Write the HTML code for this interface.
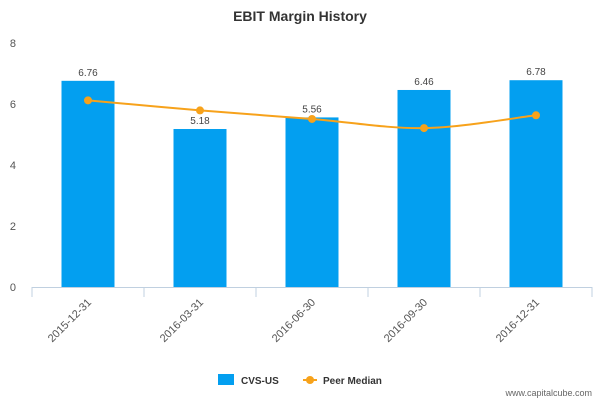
<!DOCTYPE html>
<html><head><meta charset="utf-8"><style>
body{margin:0;background:#fff;font-family:"Liberation Sans","DejaVu Sans",sans-serif}
</style></head><body>
<svg id="c" width="600" height="400" xmlns="http://www.w3.org/2000/svg">
<text x="300" y="21" text-anchor="middle" font-size="14" font-weight="bold" fill="#333">EBIT Margin History</text>
<g id="yaxis"></g>
<g id="bars"></g>
<g id="xaxis"></g>
<g id="line"></g>
<g>
<rect x="218" y="374" width="16" height="11" fill="#039ff0"/>
<text x="241" y="384" font-size="10" font-weight="bold" fill="#333">CVS-US</text>
<line x1="303" y1="380" x2="317" y2="380" stroke="#f7a21b" stroke-width="2"/>
<circle cx="310" cy="380" r="4" fill="#f7a21b"/>
<text x="323" y="384" font-size="10" font-weight="bold" fill="#333">Peer Median</text>
</g>
<text x="592" y="396" text-anchor="end" font-size="9" fill="#666">www.capitalcube.com</text>
</svg>
<script>
const categories=["2015-12-31","2016-03-31","2016-06-30","2016-09-30","2016-12-31"];
const cvsValues=[6.76,5.18,5.56,6.46,6.78];
const peerValues=[6.12,5.79,5.51,5.21,5.63];
const yTicks=[0,2,4,6,8];
const NS="http://www.w3.org/2000/svg";
const x0=32,x1=592,yBase=287,yTop=43,yMax=8;
const bw=(x1-x0)/categories.length;
function xC(i){return x0+bw*(i+0.5);}
function yS(v){return yBase-(yBase-yTop)*v/yMax;}
function mk(tag,attrs,parent){const e=document.createElementNS(NS,tag);for(const k in attrs)e.setAttribute(k,attrs[k]);parent.appendChild(e);return e;}
const ya=document.getElementById('yaxis');
yTicks.forEach(t=>{const e=mk('text',{x:16,y:yS(t)+4,'text-anchor':'end','font-size':'11',fill:'#555'},ya);e.textContent=t;

});
const bg=document.getElementById('bars');
cvsValues.forEach((v,i)=>{const r=mk('rect',{x:xC(i)-26.5,y:yS(v),width:53,height:yBase-yS(v),fill:'#039ff0'},bg);


const t=mk('text',{x:xC(i),y:yS(v)-5,'text-anchor':'middle','font-size':'10',fill:'#444'},bg);t.textContent=v.toFixed(2);

});
const xa=document.getElementById('xaxis');
const al=mk('line',{x1:x0,y1:yBase+0.5,x2:x1,y2:yBase+0.5,stroke:'#c0d0e0','stroke-width':1},xa);


for(let i=0;i<=categories.length;i++){mk('line',{x1:x0+bw*i,y1:yBase,x2:x0+bw*i,y2:yBase+10,stroke:'#c0d0e0'},xa);}
categories.forEach((c,i)=>{const x=xC(i)+4,y=yBase+16;const t=mk('text',{x:x,y:y,'text-anchor':'end','font-size':'11',fill:'#555',transform:`rotate(-45 ${x} ${y})`},xa);t.textContent=c;

});
const lg=document.getElementById('line');
const pts=peerValues.map((v,i)=>[xC(i),yS(v)]);
let d=`M${pts[0][0]},${pts[0][1]}`;
for(let i=0;i<pts.length-1;i++){const p0=pts[Math.max(0,i-1)],p1=pts[i],p2=pts[i+1],p3=pts[Math.min(pts.length-1,i+2)];const k=1/6;
d+=` C${p1[0]+(p2[0]-p0[0])*k},${p1[1]+(p2[1]-p0[1])*k} ${p2[0]-(p3[0]-p1[0])*k},${p2[1]-(p3[1]-p1[1])*k} ${p2[0]},${p2[1]}`;}
const pl=mk('path',{d:d,fill:'none',stroke:'#f7a21b','stroke-width':2},lg);


pts.forEach((p,i)=>{const c=mk('circle',{cx:p[0],cy:p[1],r:4,fill:'#f7a21b'},lg);

});
</script>
</body></html>
